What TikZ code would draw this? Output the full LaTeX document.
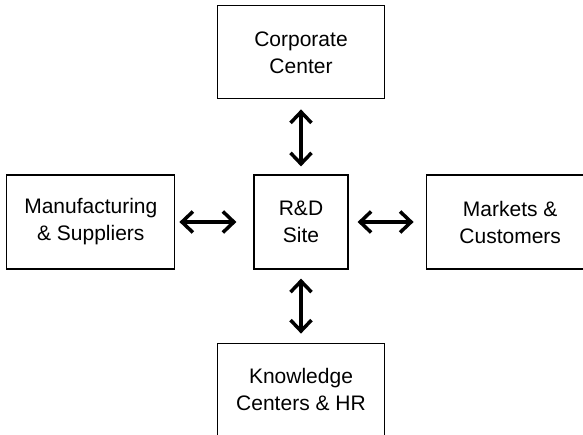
\documentclass[tikz,border=0pt]{standalone}
\usepackage{fontspec}
\setmainfont{Liberation Sans}
\usetikzlibrary{positioning,arrows.meta}

\tikzset{
  site/.style={draw,line width=1.2pt,inner sep=0pt,align=center,
    minimum width=167pt,minimum height=93pt},
  hub/.style={site,minimum width=94pt,minimum height=94pt},
  link/.style={line width=3.5pt,
    {Straight Barb[length=11pt,width=21pt]}-{Straight Barb[length=11pt,width=21pt]}}
}

\begin{document}
\begin{tikzpicture}[font=\fontsize{21pt}{27pt}\selectfont]
	\useasboundingbox (0pt,0pt) rectangle (583pt,-435pt);
	\clip (0pt,0pt) rectangle (583pt,-435pt);
	\node[hub] (rd) at (301pt,-222pt) {R\&D\\Site};
	\node[site,above=75pt of rd] (corp) {Corporate\\Center};
	\node[site,left=78pt of rd,minimum width=168pt,minimum height=94pt] (mfg) {Manufacturing\\\& Suppliers};
	\node[site,right=77pt of rd,minimum width=168pt,minimum height=94pt] (mkt) {Markets \&\\Customers};
	\node[site,below=73pt of rd] (know) {Knowledge\\Centers \& HR};

	\draw[link,shorten <=8pt,shorten >=10pt] (rd) -- (corp);
	\draw[link,shorten <=4pt,shorten >=17pt] (mfg) -- (rd);
	\draw[link,shorten <=9pt,shorten >=12pt] (rd) -- (mkt);
	\draw[link,shorten <=9pt,shorten >=9pt] (rd) -- (know);
\end{tikzpicture}
\end{document}
